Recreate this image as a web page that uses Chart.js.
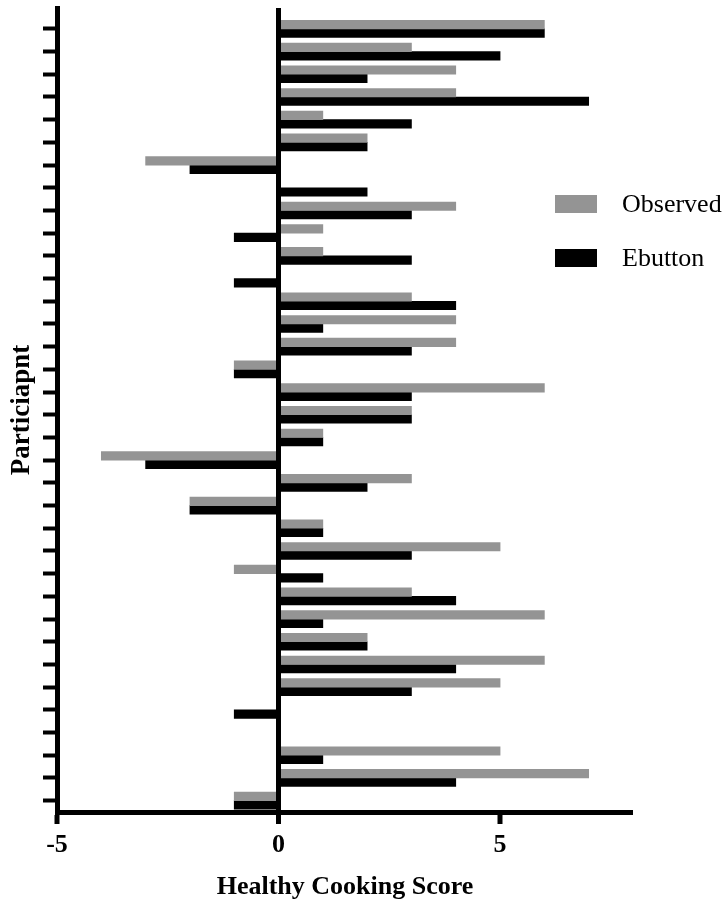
<!DOCTYPE html>
<html>
<head>
<meta charset="utf-8">
<script src="https://cdn.jsdelivr.net/npm/chart.js@4.4.1/dist/chart.umd.min.js"></script>
<style>
    body { margin: 0; background: #ffffff; }
    .wrap { position: relative; width: 723px; height: 905px; }
    .legend { position: absolute; left: 555px; top: 0; font-family: "Liberation Serif", serif; font-size: 26px; color: #000; }
    .legend .item { position: absolute; left: 0; width: 170px; height: 30px; white-space: nowrap; }
    .legend .box { position: absolute; left: 0; top: 6px; width: 42px; height: 18px; }
    .legend .txt { position: absolute; left: 67px; top: 0; line-height: 30px; }
</style>
</head>
<body>
<div class="wrap">
    <canvas id="cookChart"></canvas>
    <div class="legend" id="legend"></div>
</div>
<script>
const participants = ["1", "2", "3", "4", "5", "6", "7", "8", "9", "10",
    "11", "12", "13", "14", "15", "16", "17", "18", "19", "20",
    "21", "22", "23", "24", "25", "26", "27", "28", "29", "30",
    "31", "32", "33", "34", "35"];

const observed = [6, 3, 4, 4, 1, 2, -3, 0, 4, 1,
    1, 0, 3, 4, 4, -1, 6, 3, 1, -4,
    3, -2, 1, 5, -1, 3, 6, 2, 6, 5,
    0, 0, 5, 7, -1];

const ebutton = [6, 5, 2, 7, 3, 2, -2, 2, 3, -1,
    3, -1, 4, 1, 3, -1, 3, 3, 1, -3,
    2, -2, 1, 3, 1, 4, 1, 2, 4, 3,
    -1, 0, 1, 4, -1];

const xTickValues = [-5, 0, 5];

const seriesNames = ["Observed", "Ebutton"];
const seriesColors = ["#949494", "#000000"];

document.addEventListener("DOMContentLoaded", function () {
    Chart.defaults.font.family = "'Liberation Serif', serif";
    Chart.defaults.color = "#000000";

    const ctx = document.getElementById("cookChart").getContext("2d");

    function toPoints(values) {
        return values.map(function (v, i) {
            return { x: v, y: i };
        });
    }

    new Chart(ctx, {
        type: "bar",
        data: {
            datasets: [{
                label: seriesNames[0],
                data: toPoints(observed),
                backgroundColor: seriesColors[0],
                barThickness: 8.5
            }, {
                label: seriesNames[1],
                data: toPoints(ebutton),
                backgroundColor: seriesColors[1],
                barThickness: 8.5
            }]
        },
        options: {
            indexAxis: "y",
            responsive: true,
            maintainAspectRatio: false,
            animation: false,
            layout: {
                padding: { top: 8, right: 90, bottom: 0, left: 0 }
            },
            plugins: {
                legend: { display: false },
                tooltip: {
                    callbacks: {
                        title: function (items) {
                            return "Participant " + participants[items[0].parsed.y];
                        }
                    }
                }
            },
            scales: {
                y: {
                    type: "linear",
                    reverse: true,
                    offset: false,
                    min: -0.92,
                    max: 34.5,
                    ticks: {
                        display: false,
                        stepSize: 1,
                        maxTicksLimit: 40,
                        includeBounds: false
                    },
                    grid: {
                        offset: false,
                        drawOnChartArea: false,
                        drawTicks: true,
                        tickLength: 14,
                        tickWidth: 4,
                        tickColor: "#000000"
                    },
                    border: {
                        display: true,
                        width: 5,
                        color: "#000000"
                    },
                    title: {
                        display: true,
                        text: "Particiapnt",
                        font: { size: 27, weight: "bold" },
                        padding: { top: 6, bottom: 0 }
                    },
                    afterFit: function (scale) {
                        scale.width = 57;
                    }
                },
                x: {
                    type: "linear",
                    min: -5,
                    max: 8,
                    afterBuildTicks: function (scale) {
                        scale.ticks = xTickValues.map(function (v) {
                            return { value: v };
                        });
                    },
                    ticks: {
                        font: { size: 26, weight: "bold" },
                        padding: 6,
                        color: "#000000"
                    },
                    grid: {
                        z: 1,
                        color: "#000000",
                        lineWidth: function (c) {
                            return c.tick && c.tick.value === 0 ? 5 : 0;
                        },
                        drawTicks: true,
                        tickLength: 12,
                        tickWidth: 5,
                        tickColor: "#000000"
                    },
                    border: {
                        z: 2,
                        display: true,
                        width: 5,
                        color: "#000000"
                    },
                    title: {
                        display: true,
                        text: "Healthy Cooking Score",
                        font: { size: 26, weight: "bold" },
                        padding: { top: 0, bottom: 2 }
                    },
                    afterFit: function (scale) {
                        scale.height = 93;
                    }
                }
            }
        }
    });

    // legend as plain text next to the plot
    const legend = document.getElementById("legend");
    const tops = [189, 243];
    seriesNames.forEach(function (name, i) {
        const item = document.createElement("div");
        item.className = "item";
        item.style.top = tops[i] + "px";
        item.innerHTML = '<div class="box" style="background:' + seriesColors[i] + '"></div>' +
            '<div class="txt">' + name + '</div>';
        legend.appendChild(item);
    });
});
</script>
</body>
</html>
